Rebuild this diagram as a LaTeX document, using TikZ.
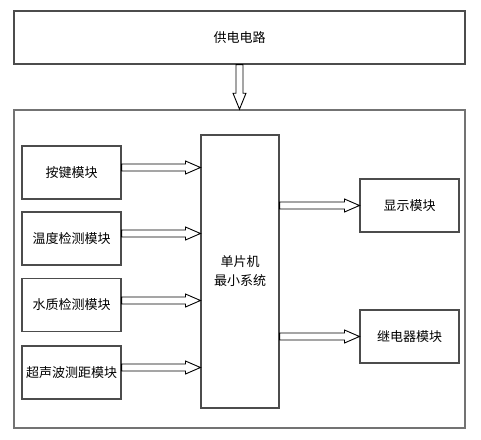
\documentclass[tikz,border=0pt]{standalone}
\usepackage{fontspec}
\newfontfamily\cjk{Noto Sans CJK SC}
\usetikzlibrary{calc}
\tikzset{
  box/.style={draw=black!70, line width=1.1pt, fill=white, inner sep=0pt, font=\cjk\fontsize{13}{19}\selectfont, align=center},
  outerbox/.style={draw=black!55, line width=1.6pt, inner sep=0pt},
  blk/.style={draw=black, line width=0.9pt, fill=white, line join=miter}
}
\newcommand{\hblk}[3]{%
  \draw[blk] let \p1=(#1), \p2=(#2) in
    ({\x1},{\y2+#3+3.5pt}) -- ({\x2-15pt},{\y2+#3+3.5pt}) -- ({\x2-15pt},{\y2+#3+6.5pt}) --
    ({\x2},{\y2+#3}) -- ({\x2-15pt},{\y2+#3-6.5pt}) -- ({\x2-15pt},{\y2+#3-3.5pt}) --
    ({\x1},{\y2+#3-3.5pt}) -- cycle;}
\begin{document}
\begin{tikzpicture}[x=1pt,y=-1pt]
\useasboundingbox (0,0) rectangle (481,439);
\node[box, minimum width=451pt, minimum height=53pt] (power) at (239.5,37.5) {供电电路};
\node[outerbox, minimum width=451pt, minimum height=318pt] (outer) at (239.5,269) {};
\node[box, minimum width=99pt, minimum height=53pt] (k1) at (71.5,172.5) {按键模块};
\node[box, minimum width=99pt, minimum height=53pt] (k2) at (71.5,238.5) {温度检测模块};
\node[box, minimum width=99pt, minimum height=53pt] (k3) at (71.5,305) {水质检测模块};
\node[box, minimum width=99pt, minimum height=53pt] (k4) at (71.5,372.5) {超声波测距模块};
\node[box, minimum width=78pt, minimum height=273pt] (mcu) at (240,271.5) {单片机\\最小系统};
\node[box, minimum width=99pt, minimum height=53pt] (disp) at (409.5,205.5) {显示模块};
\node[box, minimum width=99pt, minimum height=53pt] (relay) at (409.5,336.5) {继电器模块};
% power arrow
\draw[blk] let \p1=(power.south), \p2=(outer.north) in
  ({\x1-3.5pt},{\y1}) -- ({\x1-3.5pt},{\y2+16pt}) -- ({\x1-6.5pt},{\y2+16pt}) --
  ({\x1},{\y2}) -- ({\x1+6.5pt},{\y2+16pt}) -- ({\x1+3.5pt},{\y2+16pt}) --
  ({\x1+3.5pt},{\y1}) -- cycle;
\hblk{k1.east}{k1.east -| mcu.west}{5pt}
\hblk{k2.east}{k2.east -| mcu.west}{5pt}
\hblk{k3.east}{k3.east -| mcu.west}{4.5pt}
\hblk{k4.east}{k4.east -| mcu.west}{5pt}
\hblk{disp.west -| mcu.east}{disp.west}{0pt}
\hblk{relay.west -| mcu.east}{relay.west}{0pt}
\end{tikzpicture}
\end{document}
